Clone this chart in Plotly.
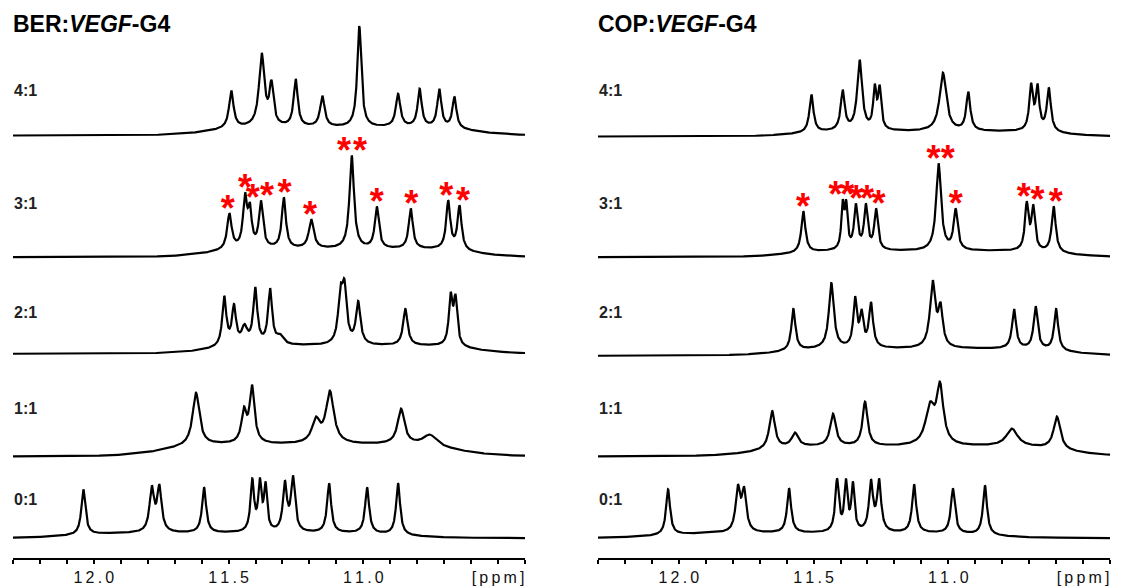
import numpy as np
import plotly.graph_objects as go

# ---------------- DATA ----------------
ratios = ["0:1", "1:1", "2:1", "3:1", "4:1"]
tick_vals = [12.0, 11.5, 11.0, 10.5]
tick_labels = ["12.0", "11.5", "11.0", "[ppm]"]
panel_titles = ["BER:<i>VEGF</i>-G4", "COP:<i>VEGF</i>-G4"]

# BER:VEGF-G4 imino peaks (ppm, height, line width in ppm)
ber_01_ppm = [12.039, 11.785, 11.757, 11.591, 11.412, 11.384, 11.363, 11.291, 11.261, 11.127, 10.986, 10.871]
ber_01_h = [49, 53, 54, 51, 60, 61, 57, 58, 63, 55, 51, 55]
ber_01_w = [0.018, 0.02, 0.02, 0.018, 0.016, 0.014, 0.014, 0.018, 0.018, 0.018, 0.018, 0.018]

ber_11_ppm = [11.621, 11.443, 11.413, 11.176, 11.124, 10.860, 10.753]
ber_11_h = [64, 50, 72, 40, 66, 48, 22]
ber_11_w = [0.03, 0.022, 0.022, 0.035, 0.035, 0.03, 0.06]

ber_21_ppm = [11.516, 11.480, 11.441, 11.401, 11.346, 11.309, 11.085, 11.070, 11.019, 10.844, 10.676, 10.658]
ber_21_h = [58, 50, 30, 67, 66, 20, 70, 75, 53, 45, 62, 60]
ber_21_w = [0.018, 0.018, 0.025, 0.018, 0.018, 0.03, 0.02, 0.02, 0.02, 0.02, 0.016, 0.016]

ber_31_ppm = [11.497, 11.439, 11.421, 11.380, 11.295, 11.193, 11.043, 10.950, 10.824, 10.685, 10.643]
ber_31_h = [44, 65, 55, 57, 60, 38, 102, 51, 49, 57, 52]
ber_31_w = [0.02, 0.018, 0.016, 0.018, 0.018, 0.022, 0.02, 0.018, 0.018, 0.018, 0.018]

ber_41_ppm = [11.490, 11.377, 11.341, 11.251, 11.152, 11.015, 10.871, 10.791, 10.718, 10.662]
ber_41_h = [45, 83, 56, 57, 40, 110, 42, 47, 47, 39]
ber_41_w = [0.02, 0.024, 0.018, 0.018, 0.02, 0.018, 0.02, 0.018, 0.018, 0.018]

# broad baseline hump under the imino region (centre, half-width, height) per ratio
ber_hump_c = [11.47, 11.20, 11.08, 11.08, 11.08]
ber_hump_w = [0.62, 0.55, 0.50, 0.50, 0.50]
ber_hump_h = [5, 12, 8, 8, 8]

# COP:VEGF-G4 imino peaks
cop_01_ppm = [12.040, 11.781, 11.758, 11.591, 11.413, 11.380, 11.354, 11.287, 11.257, 11.127, 10.983, 10.864]
cop_01_h = [49, 54, 52, 50, 60, 60, 57, 59, 60, 54, 50, 53]
cop_01_w = [0.018, 0.02, 0.02, 0.018, 0.016, 0.014, 0.014, 0.018, 0.018, 0.018, 0.018, 0.018]

cop_11_ppm = [11.654, 11.569, 11.428, 11.309, 11.068, 11.031, 10.764, 10.597]
cop_11_h = [46, 24, 43, 55, 55, 75, 28, 40]
cop_11_w = [0.025, 0.03, 0.025, 0.022, 0.04, 0.03, 0.05, 0.03]

cop_21_ppm = [11.575, 11.434, 11.346, 11.322, 11.287, 11.058, 11.029, 10.756, 10.676, 10.600]
cop_21_h = [47, 73, 60, 47, 54, 76, 54, 47, 50, 47]
cop_21_w = [0.018, 0.022, 0.016, 0.016, 0.018, 0.024, 0.02, 0.018, 0.018, 0.018]

cop_31_ppm = [11.538, 11.392, 11.379, 11.343, 11.306, 11.268, 11.036, 10.973, 10.709, 10.685, 10.609]
cop_31_h = [46, 58, 58, 54, 54, 49, 94, 49, 56, 53, 51]
cop_31_w = [0.018, 0.012, 0.012, 0.016, 0.016, 0.016, 0.022, 0.018, 0.016, 0.016, 0.018]

cop_41_ppm = [11.508, 11.392, 11.329, 11.273, 11.255, 11.020, 10.926, 10.693, 10.669, 10.627]
cop_41_h = [42, 47, 77, 53, 52, 64, 45, 54, 53, 49]
cop_41_w = [0.018, 0.018, 0.022, 0.014, 0.014, 0.03, 0.018, 0.016, 0.016, 0.018]

cop_hump_c = [11.46, 11.13, 11.09, 11.08, 11.07]
cop_hump_w = [0.62, 0.58, 0.54, 0.52, 0.50]
cop_hump_h = [5, 10, 7, 6, 5]

# asterisks on the 3:1 spectra: label position (ppm) and the peak they mark (ppm)
ber_star_x = [11.503, 11.439, 11.410, 11.357, 11.292, 11.198, 11.072, 11.012, 10.950, 10.822, 10.692, 10.630]
ber_star_peak = [11.497, 11.439, 11.421, 11.380, 11.295, 11.193, 11.043, 11.043, 10.950, 10.824, 10.685, 10.643]
cop_star_x = [11.539, 11.419, 11.375, 11.342, 11.302, 11.259, 11.055, 11.002, 10.972, 10.720, 10.669, 10.601]
cop_star_peak = [11.538, 11.392, 11.379, 11.343, 11.306, 11.268, 11.036, 11.036, 10.973, 10.709, 10.685, 10.609]

ber_spectra = [(ber_01_ppm, ber_01_h, ber_01_w), (ber_11_ppm, ber_11_h, ber_11_w),
               (ber_21_ppm, ber_21_h, ber_21_w), (ber_31_ppm, ber_31_h, ber_31_w),
               (ber_41_ppm, ber_41_h, ber_41_w)]
cop_spectra = [(cop_01_ppm, cop_01_h, cop_01_w), (cop_11_ppm, cop_11_h, cop_11_w),
               (cop_21_ppm, cop_21_h, cop_21_w), (cop_31_ppm, cop_31_h, cop_31_w),
               (cop_41_ppm, cop_41_h, cop_41_w)]

# ---------------- LAYOUT / STYLE ----------------
W, H = 1123, 586
AXIS_Y = 560                       # pixel row of the x axis line
ber_base_px = [540, 458, 355, 258, 136]
cop_base_px = [540, 458, 357, 258, 137]
ber_label_px = [501, 410, 314, 204, 91]
cop_label_px = [501, 410, 314, 204, 91]
left_dom_px = (13, 525)
right_dom_px = (598, 1110)
x_range = [12.3, 10.4]
FONT = "Liberation Sans, Arial, sans-serif"
STAR_SIZE = 36
STAR_LIFT = 10

grid = np.linspace(x_range[0], x_range[1], 2400)


def make_spectrum(ppm, h, w, hc, hw, hh):
    P = np.asarray(ppm, float)
    Hh = np.asarray(h, float)
    Wd = np.asarray(w, float)

    def hump(x):
        return hh / (1.0 + ((x - hc) / hw) ** 8)

    def lor(x):
        return 1.0 / (1.0 + ((x[:, None] - P[None, :]) / (Wd[None, :] / 2.0)) ** 2)

    M = lor(P)
    amp = np.linalg.solve(M, Hh - hump(P))
    amp = np.clip(amp, 0, None)

    def f(x):
        x = np.asarray(x, float)
        return hump(x) + lor(x) @ amp
    return f


fig = go.Figure()
panels = [
    ("x", "y", ber_spectra, ber_hump_c, ber_hump_w, ber_hump_h, ber_base_px, ber_star_x, ber_star_peak),
    ("x2", "y2", cop_spectra, cop_hump_c, cop_hump_w, cop_hump_h, cop_base_px, cop_star_x, cop_star_peak),
]
for xa, ya, spectra, hcs, hws, hhs, bases, sx, sp in panels:
    funcs = []
    for i, (ppm, h, w) in enumerate(spectra):
        f = make_spectrum(ppm, h, w, hcs[i], hws[i], hhs[i])
        funcs.append(f)
        off = AXIS_Y - bases[i]
        fig.add_trace(go.Scatter(x=grid, y=f(grid) + off, mode="lines", xaxis=xa, yaxis=ya,
                                 line=dict(color="black", width=2.2), hoverinfo="skip",
                                 showlegend=False))
    # stars on 3:1 spectrum
    f31 = funcs[3]
    off31 = AXIS_Y - bases[3]
    sy = f31(np.array(sp)) + off31 + STAR_LIFT - 0.23 * STAR_SIZE
    fig.add_trace(go.Scatter(x=sx, y=sy, mode="text", text=["<b>*</b>"] * len(sx), xaxis=xa, yaxis=ya,
                             textposition="middle center",
                             textfont=dict(size=STAR_SIZE, color="#ff0000", family=FONT),
                             hoverinfo="skip", showlegend=False))


def spaced(s):
    return "\u2009".join(list(s))


ydom = [(H - AXIS_Y) / H, 1.0]
xaxis_common = dict(range=x_range, showgrid=False, zeroline=False, showline=True,
                    linecolor="black", linewidth=2, ticks="outside", ticklen=4, tickwidth=1.5,
                    tickcolor="black", tickmode="array", tickvals=tick_vals,
                    ticktext=[spaced(t) for t in tick_labels],
                    tickfont=dict(family=FONT, size=16, color="#111"),
                    minor=dict(ticks="outside", ticklen=4, tickwidth=1.5, tickcolor="black",
                               tick0=10.4, dtick=0.1, showgrid=False),
                    fixedrange=True)
yaxis_common = dict(range=[0, AXIS_Y], domain=ydom, visible=False, fixedrange=True)

fig.update_layout(
    width=W, height=H, margin=dict(l=0, r=0, t=0, b=0),
    paper_bgcolor="white", plot_bgcolor="white",
    xaxis=dict(domain=[left_dom_px[0] / W, left_dom_px[1] / W], anchor="y", **xaxis_common),
    xaxis2=dict(domain=[right_dom_px[0] / W, right_dom_px[1] / W], anchor="y2", **xaxis_common),
    yaxis=dict(anchor="x", **yaxis_common),
    yaxis2=dict(anchor="x2", **yaxis_common),
)

annotations = []
for title, x0 in zip(panel_titles, [11, 596]):
    annotations.append(dict(text="<b>" + title + "</b>", x=x0 / W, y=1 - 24 / H, xref="paper",
                            yref="paper", xanchor="left", yanchor="middle", showarrow=False,
                            font=dict(family=FONT, size=23, color="black")))
for labels_px, x0 in [(ber_label_px, 12), (cop_label_px, 597)]:
    for r, py in zip(ratios, labels_px):
        annotations.append(dict(text="<b>" + r + "</b>", x=x0 / W, y=1 - py / H, xref="paper",
                                yref="paper", xanchor="left", yanchor="middle", showarrow=False,
                                font=dict(family=FONT, size=16, color="#222")))
fig.update_layout(annotations=annotations)

fig.write_html("out.html")
